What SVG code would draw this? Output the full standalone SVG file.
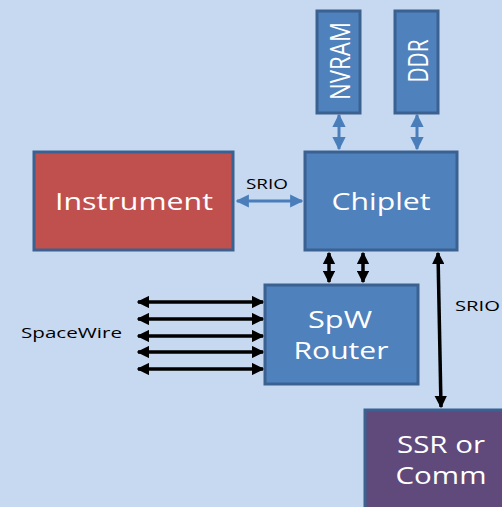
<svg xmlns="http://www.w3.org/2000/svg" width="502" height="507" viewBox="0 0 502 507">
<style>
.box{stroke:#3B6190;stroke-width:3}
.blue{fill:#4F81BD}
.lbl{font-family:"Open Sans","Liberation Sans",sans-serif;fill:#FFFFFF;text-anchor:middle}
.sm{font-family:"Open Sans","Liberation Sans",sans-serif;fill:#000000;font-size:14.5px}
.bk{stroke:#000;stroke-width:3.5;fill:none;marker-start:url(#ab);marker-end:url(#ab)}
.bl{stroke:#4A7EBB;stroke-width:3;fill:none;marker-start:url(#abl);marker-end:url(#abl)}
</style>
<defs>
<marker id="ab" viewBox="0 0 10 10" refX="9" refY="5" markerWidth="3.6" markerHeight="3.6" orient="auto-start-reverse" markerUnits="strokeWidth"><path d="M0,0 L10,5 L0,10 z" fill="#000"/></marker>
<marker id="abl" viewBox="0 0 10 10" refX="9" refY="5" markerWidth="4.4" markerHeight="4.4" orient="auto-start-reverse" markerUnits="strokeWidth"><path d="M0,0 L10,5 L0,10 z" fill="#4A7EBB"/></marker>
</defs>
<rect width="502" height="507" fill="#C6D9F1"/>
<g id="connectors">
<line class="bl" x1="339" y1="115" x2="339" y2="149"/>
<line class="bl" x1="417" y1="115" x2="417" y2="149"/>
<line class="bl" x1="237" y1="201" x2="302" y2="201"/>
<line class="bk" x1="329" y1="253" x2="329" y2="282"/>
<line class="bk" x1="363" y1="253" x2="363" y2="282"/>
<line class="bk" x1="438" y1="253" x2="441" y2="407"/>
<line class="bk" x1="138" y1="302" x2="263" y2="302"/>
<line class="bk" x1="138" y1="319" x2="263" y2="319"/>
<line class="bk" x1="138" y1="336" x2="263" y2="336"/>
<line class="bk" x1="138" y1="352" x2="263" y2="352"/>
<line class="bk" x1="138" y1="369" x2="263" y2="369"/>
<text class="sm" x="246" y="189" textLength="42" lengthAdjust="spacingAndGlyphs">SRIO</text>
<text class="sm" x="455" y="311" textLength="45" lengthAdjust="spacingAndGlyphs">SRIO</text>
<text class="sm" x="21" y="338" textLength="101" lengthAdjust="spacingAndGlyphs">SpaceWire</text>
</g>
<g id="nvram">
<rect class="box blue" x="317" y="11" width="43" height="102"/>
<text class="lbl" transform="translate(350,61) rotate(-90)" font-size="28" textLength="78" lengthAdjust="spacingAndGlyphs">NVRAM</text>
</g>
<g id="ddr">
<rect class="box blue" x="395" y="11" width="43" height="102"/>
<text class="lbl" transform="translate(428,61) rotate(-90)" font-size="28" textLength="43" lengthAdjust="spacingAndGlyphs">DDR</text>
</g>
<g id="chiplet">
<rect class="box blue" x="305" y="152" width="152" height="98"/>
<text class="lbl" x="381" y="210" font-size="24" textLength="99" lengthAdjust="spacingAndGlyphs">Chiplet</text>
</g>
<g id="instrument">
<rect class="box" fill="#C0504D" x="34" y="152" width="199" height="98"/>
<text class="lbl" x="134" y="210" font-size="24" textLength="158" lengthAdjust="spacingAndGlyphs">Instrument</text>
</g>
<g id="spw">
<rect class="box blue" x="265" y="285" width="153" height="99"/>
<text class="lbl" x="340" y="328" font-size="24" textLength="64" lengthAdjust="spacingAndGlyphs">SpW</text>
<text class="lbl" x="341" y="359" font-size="24" textLength="95" lengthAdjust="spacingAndGlyphs">Router</text>
</g>
<g id="ssr">
<rect class="box" fill="#604A7B" x="365" y="410" width="140" height="100"/>
<text class="lbl" x="441" y="453" font-size="24" textLength="88" lengthAdjust="spacingAndGlyphs">SSR or</text>
<text class="lbl" x="441" y="484" font-size="24" textLength="91" lengthAdjust="spacingAndGlyphs">Comm</text>
</g>
</svg>
